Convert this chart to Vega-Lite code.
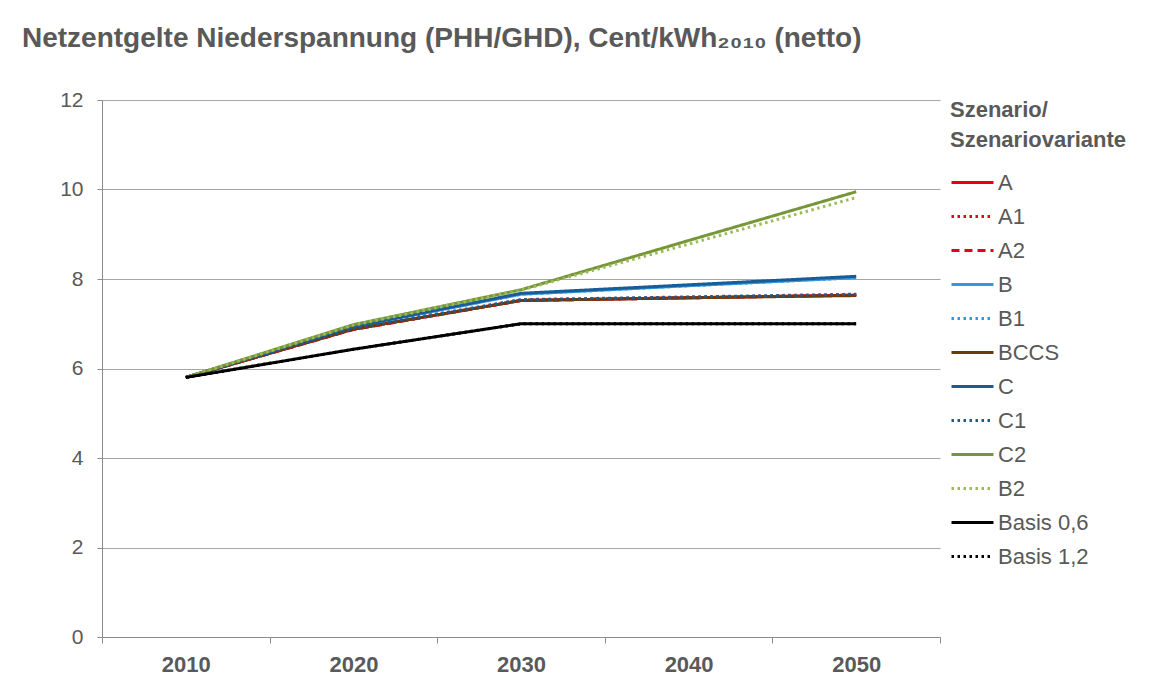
{
  "$schema": "https://vega.github.io/schema/vega-lite/v6.json",
  "autosize": "none",
  "padding": {"left": 102, "top": 100, "right": 228, "bottom": 41},
  "width": 838,
  "height": 537,
  "background": "white",
  "title": {
    "text": "Netzentgelte Niederspannung (PHH/GHD), Cent/kWh₂₀₁₀ (netto)",
    "anchor": "start",
    "frame": "group",
    "dx": -80,
    "offset": 36,
    "font": "Liberation Sans",
    "fontSize": 28,
    "fontWeight": "bold",
    "color": "#595959"
  },
  "data": {
    "values": [
      {"szenario": "A", "jahr": "2010", "wert": 5.8},
      {"szenario": "A", "jahr": "2020", "wert": 6.88},
      {"szenario": "A", "jahr": "2030", "wert": 7.52},
      {"szenario": "A", "jahr": "2040", "wert": 7.58},
      {"szenario": "A", "jahr": "2050", "wert": 7.64},
      {"szenario": "A1", "jahr": "2010", "wert": 5.8},
      {"szenario": "A1", "jahr": "2020", "wert": 6.88},
      {"szenario": "A1", "jahr": "2030", "wert": 7.53},
      {"szenario": "A1", "jahr": "2040", "wert": 7.59},
      {"szenario": "A1", "jahr": "2050", "wert": 7.65},
      {"szenario": "A2", "jahr": "2010", "wert": 5.8},
      {"szenario": "A2", "jahr": "2020", "wert": 6.87},
      {"szenario": "A2", "jahr": "2030", "wert": 7.52},
      {"szenario": "A2", "jahr": "2040", "wert": 7.58},
      {"szenario": "A2", "jahr": "2050", "wert": 7.64},
      {"szenario": "B", "jahr": "2010", "wert": 5.8},
      {"szenario": "B", "jahr": "2020", "wert": 6.93},
      {"szenario": "B", "jahr": "2030", "wert": 7.66},
      {"szenario": "B", "jahr": "2040", "wert": 7.85},
      {"szenario": "B", "jahr": "2050", "wert": 8.03},
      {"szenario": "B1", "jahr": "2010", "wert": 5.8},
      {"szenario": "B1", "jahr": "2020", "wert": 6.93},
      {"szenario": "B1", "jahr": "2030", "wert": 7.66},
      {"szenario": "B1", "jahr": "2040", "wert": 7.85},
      {"szenario": "B1", "jahr": "2050", "wert": 8.03},
      {"szenario": "BCCS", "jahr": "2010", "wert": 5.8},
      {"szenario": "BCCS", "jahr": "2020", "wert": 6.88},
      {"szenario": "BCCS", "jahr": "2030", "wert": 7.52},
      {"szenario": "BCCS", "jahr": "2040", "wert": 7.58},
      {"szenario": "BCCS", "jahr": "2050", "wert": 7.63},
      {"szenario": "C", "jahr": "2010", "wert": 5.8},
      {"szenario": "C", "jahr": "2020", "wert": 6.94},
      {"szenario": "C", "jahr": "2030", "wert": 7.68},
      {"szenario": "C", "jahr": "2040", "wert": 7.87},
      {"szenario": "C", "jahr": "2050", "wert": 8.06},
      {"szenario": "C1", "jahr": "2010", "wert": 5.8},
      {"szenario": "C1", "jahr": "2020", "wert": 6.9},
      {"szenario": "C1", "jahr": "2030", "wert": 7.54},
      {"szenario": "C1", "jahr": "2040", "wert": 7.6},
      {"szenario": "C1", "jahr": "2050", "wert": 7.66},
      {"szenario": "C2", "jahr": "2010", "wert": 5.8},
      {"szenario": "C2", "jahr": "2020", "wert": 6.98},
      {"szenario": "C2", "jahr": "2030", "wert": 7.76},
      {"szenario": "C2", "jahr": "2040", "wert": 8.86},
      {"szenario": "C2", "jahr": "2050", "wert": 9.95},
      {"szenario": "B2", "jahr": "2010", "wert": 5.8},
      {"szenario": "B2", "jahr": "2020", "wert": 6.97},
      {"szenario": "B2", "jahr": "2030", "wert": 7.75},
      {"szenario": "B2", "jahr": "2040", "wert": 8.78},
      {"szenario": "B2", "jahr": "2050", "wert": 9.82},
      {"szenario": "Basis 0,6", "jahr": "2010", "wert": 5.8},
      {"szenario": "Basis 0,6", "jahr": "2020", "wert": 6.43},
      {"szenario": "Basis 0,6", "jahr": "2030", "wert": 7.0},
      {"szenario": "Basis 0,6", "jahr": "2040", "wert": 7.0},
      {"szenario": "Basis 0,6", "jahr": "2050", "wert": 7.0},
      {"szenario": "Basis 1,2", "jahr": "2010", "wert": 5.8},
      {"szenario": "Basis 1,2", "jahr": "2020", "wert": 6.43},
      {"szenario": "Basis 1,2", "jahr": "2030", "wert": 7.0},
      {"szenario": "Basis 1,2", "jahr": "2040", "wert": 7.0},
      {"szenario": "Basis 1,2", "jahr": "2050", "wert": 7.0}
    ]
  },
  "mark": {"type": "line", "strokeWidth": 3, "strokeCap": "butt"},
  "encoding": {
    "x": {
      "field": "jahr",
      "type": "ordinal",
      "bandPosition": 0.5,
      "scale": {"type": "band", "paddingInner": 0, "paddingOuter": 0},
      "axis": {
        "title": null,
        "labelAngle": 0,
        "tickBand": "extent",
        "tickSize": 6,
        "tickColor": "#8c8c8c",
        "domainColor": "#8c8c8c",
        "labelFont": "Liberation Sans",
        "labelFontSize": 22,
        "labelFontWeight": "bold",
        "labelColor": "#595959",
        "labelPadding": 11,
        "grid": false
      }
    },
    "y": {
      "field": "wert",
      "type": "quantitative",
      "scale": {"domain": [0, 12]},
      "axis": {
        "title": null,
        "values": [0, 2, 4, 6, 8, 10, 12],
        "tickSize": 5,
        "tickColor": "#8c8c8c",
        "domainColor": "#8c8c8c",
        "gridColor": "#a6a6a6",
        "labelFont": "Liberation Sans",
        "labelFontSize": 21,
        "labelColor": "#595959",
        "labelPadding": 14
      }
    },
    "color": {
      "field": "szenario",
      "type": "nominal",
      "sort": null,
      "scale": {
        "domain": ["A", "A1", "A2", "B", "B1", "BCCS", "C", "C1", "C2", "B2", "Basis 0,6", "Basis 1,2"],
        "range": ["#e2001a", "#e2001a", "#e2001a", "#3399dd", "#3399dd", "#6b3a0b", "#1a5c96", "#1a5c96", "#77963a", "#9bbb59", "#000000", "#000000"]
      },
      "legend": {
        "title": ["\u2002\u2009Szenario/", "\u2002\u2009Szenariovariante"],
        "orient": "right",
        "offset": 10,
        "padding": 0,
        "titleFont": "Liberation Sans",
        "titleFontSize": 22,
        "titleFontWeight": "bold",
        "titleColor": "#595959",
        "titleLineHeight": 30,
        "titlePadding": 8,
        "labelFont": "Liberation Sans",
        "labelFontSize": 22,
        "labelColor": "#595959",
        "labelOffset": 3,
        "symbolType": "stroke",
        "symbolSize": 1764,
        "symbolStrokeWidth": 3,
        "rowPadding": 0
      }
    },
    "strokeDash": {
      "field": "szenario",
      "type": "nominal",
      "sort": null,
      "scale": {
        "domain": ["A", "A1", "A2", "B", "B1", "BCCS", "C", "C1", "C2", "B2", "Basis 0,6", "Basis 1,2"],
        "range": [[1, 0], [2.5, 3.5], [8, 5], [1, 0], [2.5, 3.5], [1, 0], [1, 0], [2.5, 3.5], [1, 0], [2.5, 3.5], [1, 0], [2.5, 3.5]]
      }
    }
  },
  "config": {
    "view": {"stroke": null},
    "font": "Liberation Sans"
  }
}
